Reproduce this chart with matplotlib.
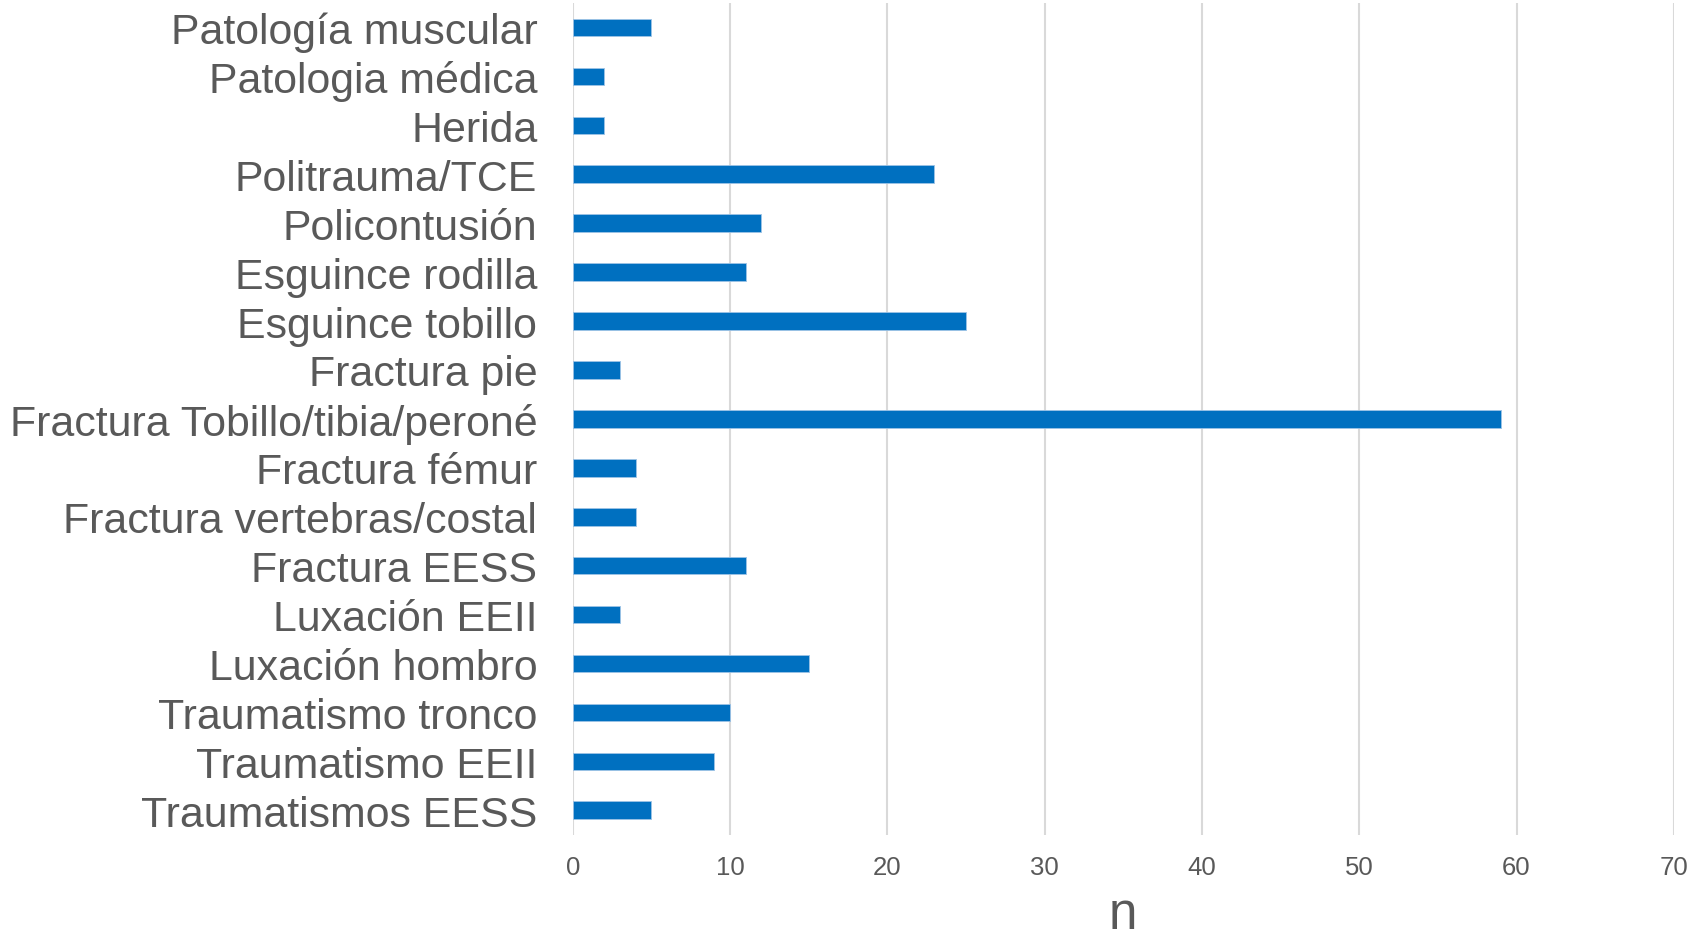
import matplotlib
matplotlib.use("Agg")
import matplotlib.pyplot as plt

# Diagnoses, listed top to bottom
categories = [
    "Patología muscular",
    "Patologia médica",
    "Herida",
    "Politrauma/TCE",
    "Policontusión",
    "Esguince rodilla",
    "Esguince tobillo",
    "Fractura pie",
    "Fractura Tobillo/tibia/peroné",
    "Fractura fémur",
    "Fractura vertebras/costal",
    "Fractura EESS",
    "Luxación EEII",
    "Luxación hombro",
    "Traumatismo tronco",
    "Traumatismo EEII",
    "Traumatismos EESS",
]
counts = [5, 2, 2, 23, 12, 11, 25, 3, 59, 4, 4, 11, 3, 15, 10, 9, 5]
x_ticks = [0, 10, 20, 30, 40, 50, 60, 70]
x_label = "n"

text_color = "#595959"
bar_color = "#0070C0"
grid_color = "#D9D9D9"

plt.rcParams["font.family"] = ["Liberation Sans", "DejaVu Sans"]

fig = plt.figure(figsize=(17.05, 9.37), dpi=100)
ax = fig.add_axes([0.3359, 0.1081, 0.9817 - 0.3359, 0.99573 - 0.1081])

positions = list(range(len(categories)))
ax.barh(positions, counts, height=0.36, color=bar_color,
        edgecolor="#9DC3E6", linewidth=0.6, zorder=3)

ax.set_ylim(len(categories) - 0.5, -0.5)
ax.set_xlim(0, 70)
ax.set_yticks(positions)
ax.set_yticklabels(categories, fontsize=30.85, color=text_color)
ax.set_xticks(x_ticks)
ax.set_xticklabels([str(t) for t in x_ticks], fontsize=18.5, color=text_color)

ax.tick_params(axis="y", length=0, pad=25.5)
ax.tick_params(axis="x", length=0, pad=14.5)

ax.grid(axis="x", color=grid_color, linewidth=1.5, zorder=0)
ax.grid(axis="y", visible=False)
for side in ax.spines.values():
    side.set_visible(False)

ax.set_xlabel(x_label, fontsize=37, color=text_color, labelpad=8)

fig.savefig("out.png", dpi=100, facecolor="white")
